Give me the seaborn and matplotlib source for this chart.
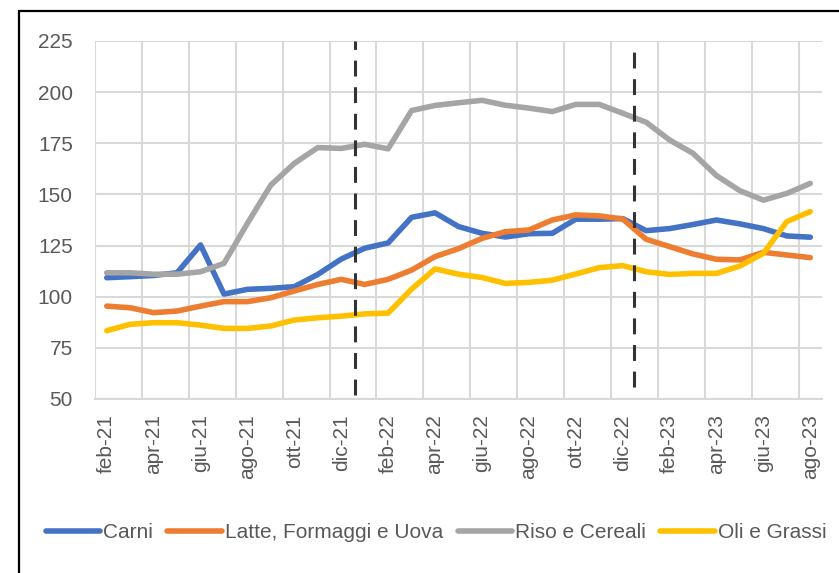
import pandas as pd
import numpy as np
import matplotlib.pyplot as plt
import seaborn as sns
from matplotlib.patches import Rectangle

# mesi da feb-21 a ago-23
mesi = ['feb-21', 'mar-21', 'apr-21', 'mag-21', 'giu-21', 'lug-21', 'ago-21', 'set-21', 'ott-21', 'nov-21', 'dic-21',
        'gen-22', 'feb-22', 'mar-22', 'apr-22', 'mag-22', 'giu-22', 'lug-22', 'ago-22', 'set-22', 'ott-22', 'nov-22', 'dic-22',
        'gen-23', 'feb-23', 'mar-23', 'apr-23', 'mag-23', 'giu-23', 'lug-23', 'ago-23']

carni = [109.3, 109.8, 110.4, 111.7, 125.3, 101.3, 103.6, 104.1, 104.9, 110.9, 118.4,
         123.7, 126.3, 138.8, 141.0, 134.3, 131.0, 129.2, 130.8, 131.0, 137.9, 137.9, 138.2,
         132.3, 133.3, 135.3, 137.5, 135.6, 133.3, 129.7, 129.1]
latte = [95.4, 94.6, 92.2, 93.0, 95.4, 97.6, 97.6, 99.5, 102.8, 106.0, 108.5,
         106.0, 108.5, 113.0, 119.6, 123.5, 128.5, 131.8, 132.6, 137.5, 140.0, 139.5, 138.0,
         128.1, 124.5, 120.9, 118.3, 118.0, 121.7, 120.4, 119.1]
riso = [111.7, 111.7, 111.0, 111.0, 112.2, 116.3, 135.9, 154.6, 165.2, 172.9, 172.5,
        174.5, 172.3, 191.0, 193.5, 194.8, 196.0, 193.6, 192.2, 190.5, 194.0, 194.0, 189.7,
        185.3, 176.6, 170.1, 159.2, 151.8, 147.2, 150.5, 155.4]
oli = [83.4, 86.5, 87.3, 87.3, 86.1, 84.5, 84.5, 85.7, 88.6, 89.7, 90.5,
       91.6, 92.0, 103.7, 113.6, 111.0, 109.4, 106.5, 107.0, 108.1, 111.1, 114.2, 115.2,
       112.2, 110.9, 111.4, 111.4, 115.0, 121.2, 136.7, 141.6]

serie = ['Carni', 'Latte, Formaggi e Uova', 'Riso e Cereali', 'Oli e Grassi']
colori = ['#4472C4', '#ED7D31', '#A5A5A5', '#FFC000']

# separatori fine anno (dic -> gen)
fine_anno = [10.6, 22.5]

df = pd.DataFrame({'idx': np.arange(len(mesi)), 'mese': mesi,
                   serie[0]: carni, serie[1]: latte, serie[2]: riso, serie[3]: oli})
df_long = df.melt(id_vars=['idx', 'mese'], value_vars=serie, var_name='serie', value_name='valore')

sns.set_style('white')
plt.rcParams['font.family'] = ['Liberation Sans', 'DejaVu Sans']
testo = '#595959'
griglia = '#D9D9D9'

fig = plt.figure(figsize=(8.39, 5.73), dpi=100)
ax = fig.add_axes([95 / 839, 1 - 399 / 573, (822 - 95) / 839, (399 - 41) / 573])

sns.lineplot(data=df_long, x='idx', y='valore', hue='serie', hue_order=serie,
             palette=colori, linewidth=4, ax=ax,
             solid_capstyle='round', solid_joinstyle='round')

tratteggio = (0, (5.2, 3.5))
ax.vlines(fine_anno[0], 52, 225, colors='#333333', linestyles=tratteggio, linewidth=2.2, zorder=5)
ax.vlines(fine_anno[1], 56, 221, colors='#333333', linestyles=tratteggio, linewidth=2.2, zorder=5)

ax.set_xlim(-0.5, len(mesi) - 0.5)
ax.set_ylim(50, 225)
ax.set_yticks(np.arange(50, 226, 25))

# griglia sui confini delle categorie, etichette al centro
ax.set_xticks(np.arange(-0.5, len(mesi) - 1, 2))
ax.set_xticklabels([])
ax.set_xticks(np.arange(0, len(mesi), 2), minor=True)
ax.set_xticklabels(mesi[::2], minor=True, rotation=90)
ax.tick_params(axis='x', which='major', length=5, width=1.5, color=griglia)
ax.tick_params(axis='x', which='minor', length=0, pad=11, labelsize=15, labelcolor=testo)
ax.tick_params(axis='y', length=0, pad=16, labelsize=15, labelcolor=testo)

ax.grid(True, which='major', color=griglia, linewidth=1.5)
ax.set_axisbelow(True)
for s in ['top', 'right', 'left']:
    ax.spines[s].set_visible(False)
ax.spines['bottom'].set_color(griglia)
ax.spines['bottom'].set_linewidth(1.5)
ax.set_xlabel('')
ax.set_ylabel('')

handles, labels = ax.get_legend_handles_labels()
ax.get_legend().remove()
fig.legend(handles, labels, loc='center', bbox_to_anchor=(436 / 839, 1 - 533 / 573), ncol=4,
           frameon=False, fontsize=15, labelcolor=testo, handlelength=2.6, handletextpad=0.15,
           columnspacing=0.7)

fig.patches.append(Rectangle((18.5 / 839, -0.1), 1.0, 1.1 - 11 / 573, transform=fig.transFigure,
                             fill=False, edgecolor='black', linewidth=1.6, clip_on=False))

fig.savefig('out.png', dpi=100)
